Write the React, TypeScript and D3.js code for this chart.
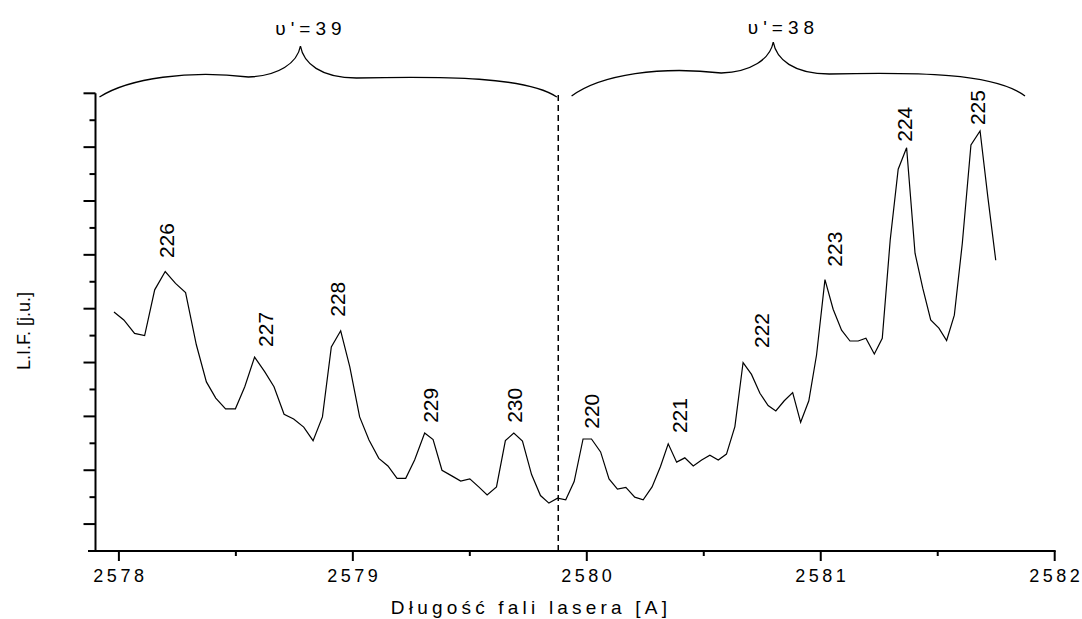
import * as d3 from "d3";

// L.I.F. spectrum, v'=39 and v'=38 bands
const wavelengths = [
  2577.979, 2578.021, 2578.067, 2578.11, 2578.153, 2578.198, 2578.242, 2578.285, 2578.331, 2578.374,
  2578.414, 2578.456, 2578.498, 2578.538, 2578.58, 2578.623, 2578.663, 2578.706, 2578.747, 2578.79,
  2578.83, 2578.87, 2578.908, 2578.948, 2578.987, 2579.029, 2579.069, 2579.111, 2579.15, 2579.189,
  2579.226, 2579.264, 2579.307, 2579.343, 2579.381, 2579.421, 2579.461, 2579.5, 2579.538, 2579.574,
  2579.614, 2579.652, 2579.688, 2579.725, 2579.764, 2579.802, 2579.838, 2579.875, 2579.91, 2579.946,
  2579.984, 2580.02, 2580.059, 2580.095, 2580.131, 2580.167, 2580.205, 2580.241, 2580.279, 2580.315,
  2580.348, 2580.384, 2580.419, 2580.455, 2580.491, 2580.526, 2580.562, 2580.597, 2580.633, 2580.668,
  2580.704, 2580.74, 2580.775, 2580.808, 2580.844, 2580.88, 2580.914, 2580.949, 2580.982, 2581.018,
  2581.053, 2581.089, 2581.125, 2581.16, 2581.193, 2581.229, 2581.263, 2581.297, 2581.331, 2581.367,
  2581.403, 2581.436, 2581.47, 2581.505, 2581.538, 2581.571, 2581.605, 2581.642, 2581.681, 2581.714,
  2581.748
];

const intensity = [
  3.94, 3.79, 3.54, 3.5, 4.35, 4.69, 4.47, 4.3, 3.33, 2.64,
  2.34, 2.14, 2.14, 2.55, 3.1, 2.83, 2.55, 2.04, 1.95, 1.8,
  1.55, 1.99, 3.29, 3.59, 2.92, 1.99, 1.56, 1.22, 1.08, 0.85,
  0.85, 1.19, 1.69, 1.57, 1.0, 0.9, 0.8, 0.84, 0.69, 0.54,
  0.69, 1.55, 1.69, 1.54, 0.92, 0.53, 0.39, 0.48, 0.45, 0.79,
  1.58, 1.58, 1.34, 0.84, 0.65, 0.68, 0.5, 0.45, 0.69, 1.07,
  1.49, 1.15, 1.23, 1.08, 1.19, 1.28, 1.19, 1.3, 1.81, 3.0,
  2.78, 2.43, 2.2, 2.1, 2.29, 2.44, 1.89, 2.29, 3.14, 4.54,
  3.99, 3.6, 3.4, 3.4, 3.45, 3.16, 3.45, 5.28, 6.59, 6.99,
  5.03, 4.38, 3.79, 3.64, 3.41, 3.88, 5.21, 7.04, 7.3, 6.08,
  4.9
];

// peak labels (rotational line numbers) and where they sit
const peakLabels = ["226", "227", "228", "229", "230", "220", "221", "222", "223", "224", "225"];
const peakLabelWl = [2578.204, 2578.625, 2578.935, 2579.331, 2579.69, 2580.021, 2580.398, 2580.747, 2581.057, 2581.357, 2581.671];
const peakLabelVal = [4.94, 3.29, 3.85, 1.88, 1.88, 1.77, 1.69, 3.27, 4.78, 7.1, 7.41];

// vibrational band braces
const bandLabels = ["υ'=39", "υ'=38"];
const bandStart = [2577.917, 2579.935];
const bandEnd = [2579.872, 2581.873];
const bandTip = [2578.776, 2580.797];
const bandLabelWl = [2578.81, 2580.83];

const splitWl = 2579.878;

const xTicks = [2578, 2579, 2580, 2581, 2582];
const xMinorTicks = [2578.5, 2579.5, 2580.5, 2581.5];
const yTicks = [0, 1, 2, 3, 4, 5, 6, 7, 8];
const yMinorTicks = [0.5, 1.5, 2.5, 3.5, 4.5, 5.5, 6.5, 7.5];

const width = 1082;
const height = 619;
const font = "'Liberation Sans', Arial, Helvetica, sans-serif";

const x = d3.scaleLinear().domain([2577.9, 2582]).range([95.5, 1054.7]);
const y = d3.scaleLinear().domain([-0.5, 8]).range([551, 93.3]);

function bracePath(x0: number, x1: number, xm: number, yEnd: number, yLevel: number, yTip: number) {
  const j0 = xm - 52;
  const j1 = xm + 56;
  return [
    `M${x0},${yEnd}`,
    `C${x0 + 30},${yLevel + 1} ${x0 + (j0 - x0) * 0.6},${yLevel - 7} ${j0},${yLevel}`,
    `C${j0 + 30},${yLevel - 1} ${xm - 3},${yLevel - 14} ${xm},${yTip}`,
    `C${xm + 3},${yLevel - 14} ${xm + 20},${yLevel + 1} ${j1},${yLevel + 1}`,
    `C${j1 + (x1 - j1) * 0.45},${yLevel - 1} ${x1 - 30},${yLevel} ${x1},${yEnd}`
  ].join(" ");
}

export default function App() {
  const points = wavelengths.map((w, i) => [w, intensity[i]] as [number, number]);
  const line = d3
    .line<[number, number]>()
    .x((d) => x(d[0]))
    .y((d) => y(d[1]));

  const axisY = y.range()[0];
  const axisX = x.range()[0];

  return (
    <svg
      width={width}
      height={height}
      style={{ position: "absolute", left: 0, top: 0, background: "#fff" }}
      fontFamily={font}
    >
      <rect x={0} y={0} width={width} height={height} fill="#fff" />

      {/* braces */}
      {bandLabels.map((label, i) => (
        <g key={label}>
          <path
            d={bracePath(
              x(bandStart[i]),
              x(bandEnd[i]),
              x(bandTip[i]),
              i === 0 ? 97 : 96,
              i === 0 ? 77 : 73,
              i === 0 ? 46 : 42
            )}
            fill="none"
            stroke="#000"
            strokeWidth={1.3}
          />
          <text
            x={x(bandLabelWl[i]) + 2.5}
            y={i === 0 ? 35 : 33.5}
            textAnchor="middle"
            fontSize={19}
            letterSpacing={5}
          >
            {label}
          </text>
        </g>
      ))}

      {/* split line between bands */}
      <line
        x1={x(splitWl)}
        x2={x(splitWl)}
        y1={95}
        y2={axisY}
        stroke="#000"
        strokeWidth={1.5}
        strokeDasharray="6 4"
      />

      {/* spectrum */}
      <path d={line(points) ?? ""} fill="none" stroke="#000" strokeWidth={1.2} strokeLinejoin="miter" />

      {peakLabels.map((label, i) => {
        const px = x(peakLabelWl[i]);
        const py = y(peakLabelVal[i]);
        return (
          <text
            key={label}
            transform={`translate(${px},${py}) rotate(-90)`}
            dy="0.36em"
            fontSize={21}
          >
            {label}
          </text>
        );
      })}

      {/* y axis */}
      <line x1={axisX} x2={axisX} y1={y(8)} y2={axisY} stroke="#000" strokeWidth={2} />
      {yTicks.map((t) => (
        <line key={`ym-${t}`} x1={axisX - 12} x2={axisX} y1={y(t)} y2={y(t)} stroke="#000" strokeWidth={2} />
      ))}
      {yMinorTicks.map((t) => (
        <line key={`yn-${t}`} x1={axisX - 6} x2={axisX} y1={y(t)} y2={y(t)} stroke="#000" strokeWidth={2} />
      ))}

      {/* x axis */}
      <line x1={88} x2={x(2582) + 1} y1={axisY} y2={axisY} stroke="#000" strokeWidth={2} />
      {xTicks.map((t) => (
        <g key={`xm-${t}`}>
          <line x1={x(t)} x2={x(t)} y1={axisY} y2={axisY + 10} stroke="#000" strokeWidth={2} />
          <text x={x(t) + 1.5} y={582} textAnchor="middle" fontSize={18} letterSpacing={3.5}>
            {t}
          </text>
        </g>
      ))}
      {xMinorTicks.map((t) => (
        <line key={`xn-${t}`} x1={x(t)} x2={x(t)} y1={axisY} y2={axisY + 5} stroke="#000" strokeWidth={2} />
      ))}

      <text x={531} y={614} textAnchor="middle" fontSize={19} letterSpacing={4.2}>
        Długość fali lasera [A]
      </text>
      <text
        transform={`translate(30,331) rotate(-90)`}
        textAnchor="middle"
        fontSize={18}
      >
        L.I.F. [j.u.]
      </text>
    </svg>
  );
}
